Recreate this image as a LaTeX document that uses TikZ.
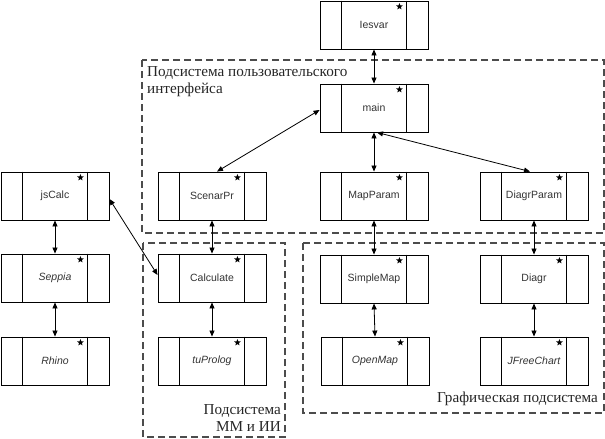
\documentclass[tikz,border=0pt]{standalone}
\usepackage{fontspec}
\setmainfont{Liberation Serif}
\setsansfont{Liberation Sans}
\usetikzlibrary{arrows.meta,shapes.geometric}
\tikzset{
  cb/.style={draw=black, line width=0.9pt, minimum width=108pt, minimum height=48pt, inner sep=0pt,
    font=\sffamily\fontsize{10.5}{12}\selectfont, text=black!80},
  divider/.style={draw=black, line width=0.9pt},
  starmark/.style={star, star points=5, star point ratio=2.3, fill=black, draw=none, inner sep=0pt, minimum size=7pt},
  link/.style={line width=0.8pt, {Triangle[length=6pt,width=5pt]}-{Triangle[length=6pt,width=5pt]}},
  subsys/.style={draw=black!70, line width=1.2pt, dash pattern=on 7pt off 4pt},
  subsyslabel/.style={font=\fontsize{15.2}{17}\selectfont, inner sep=0pt, text=black!85}
}
\newcommand\cbox[4]{%
  \node[cb] (#1) at (#2+54, -#3-24) {#4};
  \draw[divider] ([xshift=22pt]#1.north west) -- ([xshift=22pt]#1.south west);
  \draw[divider] ([xshift=-22pt]#1.north east) -- ([xshift=-22pt]#1.south east);
  \node[starmark] (#1-star) at ([xshift=-29pt, yshift=-6pt]#1.north east) {};
}
\begin{document}
\begin{tikzpicture}[x=1pt, y=1pt]
\useasboundingbox (0,0) rectangle (605,-439);
% subsystem frames
\draw[subsys] (142,-60) rectangle (604,-233);
\draw[subsys] (143,-243) rectangle (285,-437);
\draw[subsys] (303,-243) rectangle (604,-413);
\node[subsyslabel, anchor=north west, align=left] (uilbl) at (147,-66) {Подсистема пользовательского\\интерфейса};
\node[subsyslabel, anchor=south east, align=right] (mmlbl) at (281,-432) {Подсистема\\ММ и ИИ};
\node[subsyslabel, anchor=base east] (grlbl) at (598,-402) {Графическая подсистема};
% components
\cbox{iesvar}{320}{1}{Iesvar}
\cbox{main}{320}{84}{main}
\cbox{jscalc}{1}{172}{jsCalc}
\cbox{seppia}{1}{254}{\itshape Seppia}
\cbox{rhino}{1}{337}{\itshape Rhino}
\cbox{scenar}{158}{172}{ScenarPr}
\cbox{calc}{158}{254}{Calculate}
\cbox{tuprolog}{158}{337}{\itshape tuProlog}
\cbox{mapparam}{320}{172}{MapParam}
\cbox{simplemap}{320}{255}{SimpleMap}
\cbox{openmap}{321}{337}{\itshape OpenMap}
\cbox{diagrparam}{480}{172}{DiagrParam}
\cbox{diagr}{480}{255}{Diagr}
\cbox{jfree}{480}{337}{\itshape JFreeChart}
% connectors
\draw[link] (iesvar.south) -- (main.north);
\draw[link] ([yshift=-2pt]main.west) -- ([xshift=5pt]scenar.north);
\draw[link] (main.south) -- (mapparam.north);
\draw[link] ([xshift=3pt]main.south) -- ([xshift=-4pt]diagrparam.north);
\draw[link] (scenar.south) -- (calc.north);
\draw[link] (calc.south) -- (tuprolog.north);
\draw[link] (mapparam.south) -- (simplemap.north);
\draw[link] (simplemap.south) -- (openmap.north);
\draw[link] (diagrparam.south) -- (diagr.north);
\draw[link] (diagr.south) -- (jfree.north);
\draw[link] (jscalc.south) -- (seppia.north);
\draw[link] (seppia.south) -- (rhino.north);
\draw[link] ([yshift=-3pt]jscalc.east) -- ([yshift=3pt]calc.west);
\end{tikzpicture}
\end{document}
